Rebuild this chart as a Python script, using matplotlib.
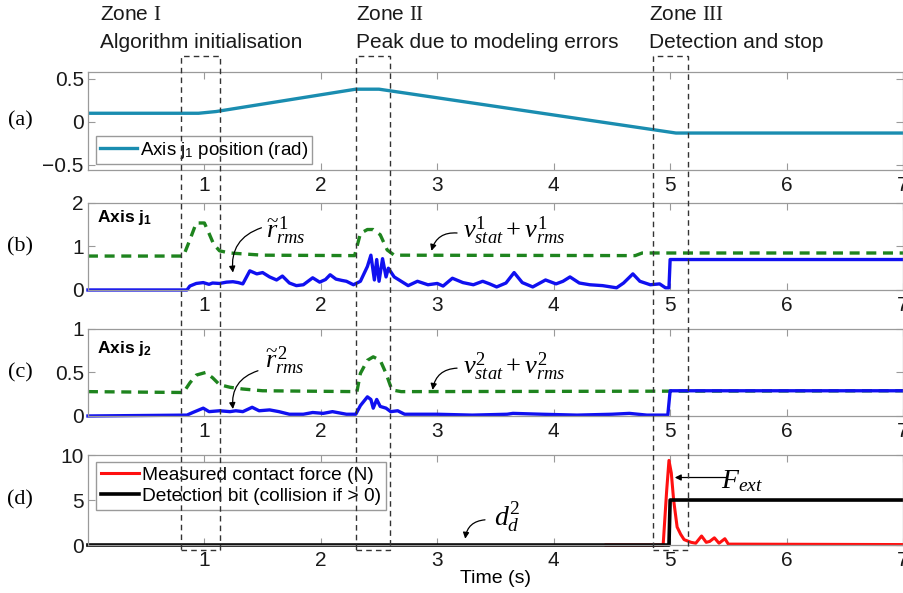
import matplotlib.pyplot as plt
from matplotlib.patches import Rectangle
from matplotlib.ticker import FuncFormatter
from matplotlib.transforms import blended_transform_factory

# ---- data ----
# (a) axis j1 position (rad)
pos_t = [0, 0.95, 1.1, 2.3, 2.5, 5.05, 7.0]
pos_v = [0.1, 0.1, 0.12, 0.38, 0.38, -0.13, -0.13]

# (b) axis j1 residual and threshold
r1_t = [0, 0.85, 0.875, 0.93, 0.99, 1.04, 1.07, 1.13, 1.19, 1.245,
        1.29, 1.33, 1.39, 1.45, 1.50, 1.56, 1.62, 1.67, 1.73, 1.79,
        1.85, 1.93, 1.99, 2.04, 2.08, 2.13, 2.18, 2.22, 2.28, 2.34,
        2.40, 2.43, 2.46, 2.48, 2.50, 2.53, 2.56, 2.58, 2.63, 2.69,
        2.75, 2.83, 2.92, 3.00, 3.05, 3.13, 3.22, 3.31, 3.39, 3.45,
        3.51, 3.59, 3.66, 3.73, 3.82, 3.93, 4.02, 4.08, 4.14, 4.22,
        4.31, 4.42, 4.54, 4.60, 4.68, 4.74, 4.83, 4.91, 4.96, 4.99,
        5.00, 7.00]
r1_v = [0, 0, 0.09, 0.15, 0.17, 0.13, 0.16, 0.15, 0.18, 0.19,
        0.17, 0.14, 0.44, 0.37, 0.40, 0.30, 0.23, 0.32, 0.16, 0.10,
        0.12, 0.28, 0.18, 0.24, 0.35, 0.25, 0.22, 0.20, 0.12, 0.20,
        0.54, 0.80, 0.23, 0.70, 0.20, 0.72, 0.30, 0.50, 0.30, 0.20,
        0.10, 0.20, 0.12, 0.15, 0.09, 0.27, 0.17, 0.12, 0.20, 0.14,
        0.07, 0.16, 0.40, 0.17, 0.07, 0.23, 0.14, 0.20, 0.30, 0.16,
        0.12, 0.10, 0.05, 0.16, 0.37, 0.20, 0.12, 0.14, 0.05, 0.05,
        0.70, 0.70]
th1_t = [0, 0.82, 0.875, 0.93, 1.00, 1.04, 1.08, 1.13, 1.22, 1.33, 1.50,
         2.29, 2.34, 2.40, 2.45, 2.51, 2.57, 2.63, 4.70, 4.76, 7.0]
th1_v = [0.78, 0.78, 1.15, 1.54, 1.54, 1.30, 1.05, 0.90, 0.85, 0.83, 0.80,
         0.79, 1.30, 1.39, 1.39, 1.27, 0.92, 0.80, 0.79, 0.85, 0.85]

# (c) axis j2 residual and threshold
r2_t = [0, 0.85, 0.90, 0.99, 1.04, 1.13, 1.22, 1.27, 1.33, 1.41,
        1.47, 1.56, 1.64, 1.73, 1.85, 1.93, 2.02, 2.10, 2.22, 2.30,
        2.34, 2.40, 2.43, 2.45, 2.48, 2.51, 2.56, 2.60, 2.66, 2.72,
        3.0, 3.3, 3.6, 3.65, 3.9, 4.2, 4.5, 4.65, 4.8, 4.98,
        5.0, 7.0]
r2_v = [0, 0.01, 0.04, 0.09, 0.05, 0.06, 0.05, 0.06, 0.05, 0.10,
        0.06, 0.07, 0.05, 0.02, 0.02, 0.04, 0.03, 0.05, 0.02, 0.02,
        0.12, 0.22, 0.19, 0.09, 0.19, 0.11, 0.09, 0.05, 0.06, 0.02,
        0.02, 0.01, 0.02, 0.03, 0.02, 0.01, 0.02, 0.03, 0.01, 0.01,
        0.29, 0.29]
th2_t = [0, 0.82, 0.875, 0.93, 1.01, 1.07, 1.13, 1.22, 1.33, 1.50,
         2.31, 2.34, 2.40, 2.45, 2.51, 2.56, 2.61, 2.69, 7.0]
th2_v = [0.28, 0.27, 0.38, 0.47, 0.50, 0.44, 0.36, 0.33, 0.31, 0.29,
         0.28, 0.49, 0.64, 0.68, 0.64, 0.49, 0.30, 0.28, 0.29]

# (d) contact force and detection bit
force_t = [4.45, 4.94, 4.97, 4.99, 5.01, 5.03, 5.06, 5.09, 5.12, 5.18,
           5.22, 5.27, 5.31, 5.34, 5.38, 5.42, 5.47, 5.50, 7.0]
force_v = [0, 0, 6.0, 9.4, 8.0, 5.0, 2.0, 1.2, 0.6, 0.3,
           0.2, 1.0, 0.3, 0.4, 0.8, 0.2, 0.7, 0.1, 0.05]
bit_t = [0, 4.99, 5.0, 7.0]
bit_v = [0, 0, 5, 5]

zones = [(0.8, 1.13), (2.3, 2.59), (4.85, 5.15)]
zone_names = [r'Zone $\mathrm{I}$', r'Zone $\mathrm{II}$', r'Zone $\mathrm{III}$']
zone_desc = ['Algorithm initialisation', 'Peak due to modeling errors',
             'Detection and stop']
zone_text_x = [0.1, 2.3, 4.82]

plt.rcParams['font.family'] = ['Liberation Sans', 'DejaVu Sans']
plt.rcParams['mathtext.fontset'] = 'custom'
plt.rcParams['mathtext.rm'] = 'Liberation Serif'
plt.rcParams['mathtext.it'] = 'Liberation Serif:italic'
plt.rcParams['mathtext.bf'] = 'Liberation Sans:bold'
plt.rcParams['mathtext.sf'] = 'Liberation Sans'

GRAY = '#9a9a9a'
TEAL = '#1a8db0'
GREEN = '#1e841e'
BLUE = '#1010f0'


def style(ax, yticks, ylim):
    ax.set_xlim(0, 7)
    ax.set_ylim(*ylim)
    ax.set_xticks([1, 2, 3, 4, 5, 6, 7])
    ax.set_yticks(yticks)
    ax.yaxis.set_major_formatter(
        FuncFormatter(lambda v, p: ('%g' % v).replace('-', '\u2212')))
    ax.tick_params(direction='in', top=True, right=True, length=5,
                   color=GRAY, labelsize=15, labelcolor='#1a1a1a')
    ax.tick_params(axis='x', pad=4)
    ax.tick_params(axis='y', pad=3)
    for s in ax.spines.values():
        s.set_color(GRAY)
        s.set_linewidth(0.9)


def arrow(ax, tip, start, rad):
    ax.annotate('', xy=tip, xytext=start,
                arrowprops=dict(arrowstyle='-|>', color='k', lw=0.9,
                                mutation_scale=9, shrinkA=0, shrinkB=0,
                                connectionstyle='arc3,rad=%s' % rad))


fig = plt.figure(figsize=(9.04, 5.93), dpi=100)
left, width = 0.0973, 0.9016
ax_a = fig.add_axes([left, 0.7133, width, 0.1653])
ax_b = fig.add_axes([left, 0.511, width, 0.1467])
ax_c = fig.add_axes([left, 0.2985, width, 0.1467])
ax_d = fig.add_axes([left, 0.0809, width, 0.1518])

# (a)
ax_a.plot(pos_t, pos_v, color=TEAL, lw=2.4, label=r'Axis j$_\mathsf{1}$ position (rad)')
style(ax_a, [-0.5, 0, 0.5], (-0.56, 0.58))
ax_a.legend(loc='lower left', bbox_to_anchor=(0.005, 0.02), fontsize=13.5,
            fancybox=False, framealpha=1, edgecolor=GRAY, handlelength=2.0,
            handletextpad=0.15, borderpad=0.2, borderaxespad=0.2)

# (b)
ax_b.plot(th1_t, th1_v, color=GREEN, lw=2.4, ls=(0, (3, 2)), clip_on=False)
ax_b.plot(r1_t, r1_v, color=BLUE, lw=2.4, clip_on=False)
style(ax_b, [0, 1, 2], (0, 2))
ax_b.text(0.011, 0.83, r'Axis j$_\mathbf{1}$', transform=ax_b.transAxes,
          fontsize=12.5, fontweight='bold', va='center')
ax_b.text(1.70, 1.36, r'$\widetilde{r}^{\,1}_{rms}$', fontsize=19,
          ha='center', va='center')
arrow(ax_b, (1.245, 0.40), (1.49, 1.43), 0.4)
ax_b.text(3.66, 1.36, r'$v^{1}_{stat} + v^{1}_{rms}$', fontsize=19,
          ha='center', va='center')
arrow(ax_b, (2.95, 0.90), (3.17, 1.31), 0.4)

# (c)
ax_c.plot(th2_t, th2_v, color=GREEN, lw=2.4, ls=(0, (3, 2)), clip_on=False)
ax_c.plot(r2_t, r2_v, color=BLUE, lw=2.4, clip_on=False)
style(ax_c, [0, 0.5, 1], (0, 1))
ax_c.text(0.011, 0.78, r'Axis j$_\mathbf{2}$', transform=ax_c.transAxes,
          fontsize=12.5, fontweight='bold', va='center')
ax_c.text(1.69, 0.63, r'$\widetilde{r}^{\,2}_{rms}$', fontsize=19,
          ha='center', va='center')
arrow(ax_c, (1.245, 0.08), (1.46, 0.52), 0.4)
ax_c.text(3.66, 0.57, r'$v^{2}_{stat} + v^{2}_{rms}$', fontsize=19,
          ha='center', va='center')
arrow(ax_c, (2.96, 0.30), (3.17, 0.55), 0.4)

# (d)
ax_d.plot(force_t, force_v, color='#ff1010', lw=2.2, clip_on=False,
          label='Measured contact force (N)')
ax_d.plot(bit_t, bit_v, color='k', lw=2.6, clip_on=False,
          label='Detection bit (collision if > 0)')
style(ax_d, [0, 5, 10], (0, 10))
ax_d.legend(loc='upper left', bbox_to_anchor=(0.005, 0.97), fontsize=13.8,
            fancybox=False, framealpha=1, edgecolor=GRAY, handlelength=2.0,
            handletextpad=0.15, borderpad=0.25, labelspacing=0.2,
            borderaxespad=0.2)
ax_d.text(5.62, 7.1, r'$F_{ext}$', fontsize=20, ha='center', va='center')
arrow(ax_d, (5.04, 7.5), (5.48, 7.5), 0)
ax_d.text(3.60, 3.0, r'$d^{2}_{d}$', fontsize=20, ha='center', va='center')
arrow(ax_d, (3.24, 0.7), (3.41, 2.8), 0.4)
ax_d.set_xlabel('Time (s)', fontsize=14, labelpad=0)

# panel letters
for ax, lab in zip([ax_a, ax_b, ax_c, ax_d], ['(a)', '(b)', '(c)', '(d)']):
    bb = ax.get_position()
    fig.text(20 / 904, bb.y0 + bb.height / 2, lab, family='Liberation Serif',
             fontsize=16, ha='center', va='center')

# zone boxes spanning all panels
trans = blended_transform_factory(ax_d.transData, fig.transFigure)
y0, y1 = 1 - 550 / 593, 1 - 56 / 593
for (z0, z1), name, desc, tx in zip(zones, zone_names, zone_desc, zone_text_x):
    fig.add_artist(Rectangle((z0, y0), z1 - z0, y1 - y0, transform=trans,
                             fill=False, ls=(0, (4, 3)), lw=1.0,
                             edgecolor='#333333', zorder=10))
    fig.text(tx, 1 - 15 / 593, name, transform=trans, fontsize=15,
             va='center', color='#1a1a1a')
    fig.text(tx, 1 - 43 / 593, desc, transform=trans, fontsize=15,
             va='center', color='#1a1a1a')

fig.savefig('out.png', dpi=100)
